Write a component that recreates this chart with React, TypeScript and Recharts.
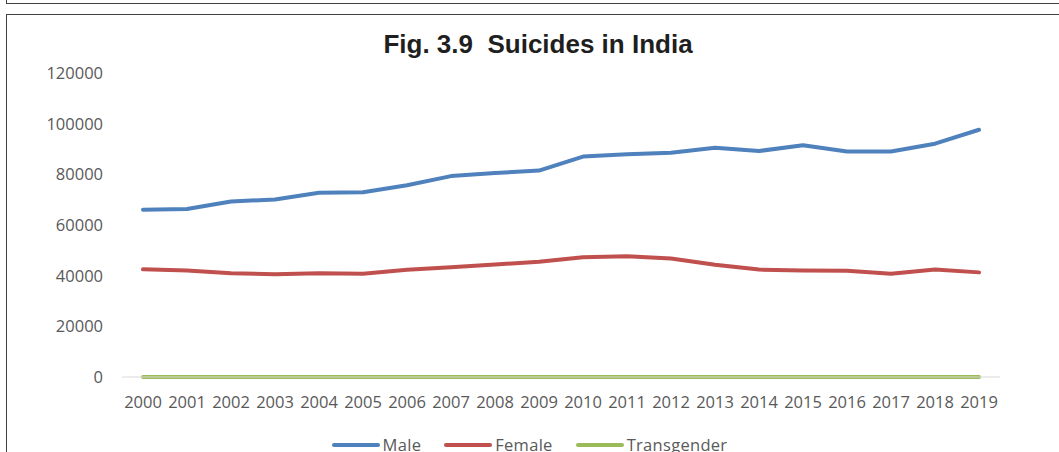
import React from 'react';
import { LineChart, Line, XAxis, YAxis, Legend } from 'recharts';

const years = ['2000', '2001', '2002', '2003', '2004', '2005', '2006', '2007', '2008', '2009', '2010', '2011', '2012', '2013', '2014', '2015', '2016', '2017', '2018', '2019'];
const male = [66000, 66300, 69300, 70100, 72700, 72900, 75700, 79300, 80500, 81500, 87000, 87900, 88500, 90500, 89200, 91500, 89000, 89000, 92100, 97600];
const female = [42500, 42000, 41000, 40600, 41000, 40800, 42300, 43300, 44400, 45500, 47300, 47700, 46800, 44300, 42400, 42000, 41900, 40800, 42400, 41300];
const transgender = [0, 0, 0, 0, 0, 0, 0, 0, 0, 0, 0, 0, 0, 0, 0, 0, 0, 0, 0, 0];
const yTicks = [0, 20000, 40000, 60000, 80000, 100000, 120000];
const seriesNames = ['Male', 'Female', 'Transgender'];
const titleText = 'Fig. 3.9  Suicides in India';

const data = years.map((y, i) => ({ year: y, Male: male[i], Female: female[i], Transgender: transgender[i] }));

const tickFont = "'Open Sans', 'Noto Sans', sans-serif";
const tickColor = '#595959';

const renderLegend = (props: any) => {
  const payload = [...(props.payload || [])].sort(
    (a: any, b: any) => seriesNames.indexOf(a.value) - seriesNames.indexOf(b.value)
  );
  return (
    <div style={{ display: 'flex', justifyContent: 'center', alignItems: 'center', height: 20, fontFamily: tickFont, fontSize: 16.5, color: tickColor }}>
      {payload.map((entry: any, i: number) => (
        <div key={entry.value} style={{ display: 'flex', alignItems: 'center', marginLeft: i === 0 ? 0 : 23 }}>
          <svg width={48} height={6} style={{ display: 'block' }}>
            <line x1={2} y1={3} x2={46} y2={3} stroke={entry.color} strokeWidth={4} strokeLinecap="round" />
          </svg>
          <span style={{ marginLeft: 3, lineHeight: '20px', whiteSpace: 'nowrap', letterSpacing: 0.3 }}>{entry.value}</span>
        </div>
      ))}
    </div>
  );
};

export default function App() {
  return (
    <div style={{ position: 'absolute', left: 0, top: 0, width: 1059, height: 452, overflow: 'hidden', background: '#fff' }}>
      <div style={{ position: 'absolute', left: 6, top: -20, width: 1100, height: 23.5, boxSizing: 'border-box', border: '1.5px solid #404040' }} />
      <div style={{ position: 'absolute', left: 5.5, top: 14, width: 1100, height: 500, boxSizing: 'border-box', border: '1.5px solid #404040' }} />
      <div style={{ position: 'absolute', left: 538, top: 31, transform: 'translateX(-50%)', fontFamily: "'Liberation Sans', Arial, sans-serif", fontWeight: 'bold', fontSize: 26, lineHeight: '26px', color: '#1f1f1f', whiteSpace: 'pre' }}>
        {titleText}
      </div>
      <div style={{ position: 'absolute', left: 0, top: 0 }}>
        <LineChart width={1059} height={452} data={data} margin={{ top: 73, right: 59, bottom: 25, left: 0 }}>
          <XAxis
            dataKey="year"
            padding={{ left: 21, right: 21 }}
            axisLine={{ stroke: '#d9d9d9', strokeWidth: 1 }}
            tickLine={false}
            tickSize={0}
            tickMargin={19}
            height={30}
            interval={0}
            tick={{ fill: tickColor, fontSize: 16.5, fontFamily: tickFont }}
          />
          <YAxis
            domain={[0, 120000]}
            ticks={yTicks}
            axisLine={false}
            tickLine={false}
            tickSize={0}
            tickMargin={19}
            width={122}
            tick={{ fill: tickColor, fontSize: 16.5, fontFamily: tickFont }}
          />
          <Legend
            content={renderLegend}
            verticalAlign="bottom"
            height={20}
            wrapperStyle={{ left: 0, top: 435, bottom: 'auto', width: 1059, height: 20 }}
          />
          <Line type="linear" dataKey="Male" name="Male" stroke="#4F81BD" strokeWidth={4} dot={false} strokeLinecap="round" strokeLinejoin="round" isAnimationActive={false} />
          <Line type="linear" dataKey="Female" name="Female" stroke="#C0504D" strokeWidth={4} dot={false} strokeLinecap="round" strokeLinejoin="round" isAnimationActive={false} />
          <Line type="linear" dataKey="Transgender" name="Transgender" stroke="#9BBB59" strokeWidth={4} dot={false} strokeLinecap="round" strokeLinejoin="round" isAnimationActive={false} />
        </LineChart>
      </div>
    </div>
  );
}
